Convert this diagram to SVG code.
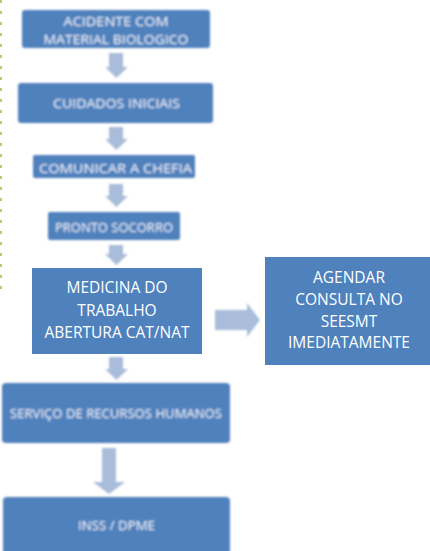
<svg xmlns="http://www.w3.org/2000/svg" width="430" height="551" viewBox="0 0 430 551">
<defs>
<filter id="soft" x="-5%" y="-20%" width="110%" height="140%"><feGaussianBlur stdDeviation="0.9"/></filter>
<style>
.box{fill:#4f81bd}
.arr{fill:#a9bcd9}
.t{fill:#ffffff;font-family:"Open Sans","Liberation Sans",sans-serif;text-anchor:middle}
.tb{fill:#eef3fa;font-family:"Open Sans","Liberation Sans",sans-serif;text-anchor:middle;font-size:13px}
.t15{font-size:15.5px}
</style>
</defs>
<rect width="430" height="551" fill="#ffffff"/>
<line x1="1" y1="0" x2="1" y2="292" stroke="#c9c66a" stroke-width="2" stroke-dasharray="3,8"/>
<g id="connectors" class="arr" filter="url(#soft)">
<path d="M109,53 H123 V67 H128 L116.5,78 L105,67 H109 Z"/>
<path d="M109,127 H123 V139 H128 L116.5,150 L105,139 H109 Z"/>
<path d="M109,184 H123 V196 H128 L116.5,207 L105,196 H109 Z"/>
<path d="M109,245 H123 V254 H128 L116.5,265 L105,254 H109 Z"/>
<path d="M109,357 H123 V369 H128 L116.5,380 L105,369 H109 Z"/>
<path d="M102,448 H116 V482 H125 L109,494 L93,482 H102 Z"/>
<path d="M215,310 H247 V303 L260,320 L247,337 V330 H215 Z"/>
</g>
<g id="n1" filter="url(#soft)">
<rect class="box" x="22" y="10" width="188" height="38" rx="3"/>
<text class="tb" x="116" y="25.5" textLength="105" lengthAdjust="spacingAndGlyphs">ACIDENTE COM</text>
<text class="tb" x="116" y="43.5" textLength="145" lengthAdjust="spacingAndGlyphs">MATERIAL BIOLOGICO</text>
</g>
<g id="n2" filter="url(#soft)">
<rect class="box" x="18" y="83" width="195" height="40" rx="3"/>
<text class="tb" x="116.5" y="108" textLength="127" lengthAdjust="spacingAndGlyphs">CUIDADOS INICIAIS</text>
</g>
<g id="n3" filter="url(#soft)">
<rect class="box" x="33" y="155" width="162" height="23" rx="2"/>
<text class="tb" x="115.5" y="172.5" textLength="153" lengthAdjust="spacingAndGlyphs">COMUNICAR A CHEFIA</text>
</g>
<g id="n4" filter="url(#soft)">
<rect class="box" x="48" y="212" width="132" height="28" rx="2"/>
<text class="tb" x="114" y="231.5" font-size="12" textLength="118" lengthAdjust="spacingAndGlyphs">PRONTO SOCORRO</text>
</g>
<g id="n5">
<rect class="box" x="32" y="268" width="170" height="86"/>
<text class="t t15" x="117" y="293">MEDICINA DO</text>
<text class="t t15" x="117" y="316">TRABALHO</text>
<text class="t t15" x="117" y="338">ABERTURA CAT/NAT</text>
</g>
<g id="n6">
<rect class="box" x="265" y="257" width="165" height="108"/>
<text class="t t15" x="349" y="283">AGENDAR</text>
<text class="t t15" x="349" y="305">CONSULTA NO</text>
<text class="t t15" x="349" y="327">SEESMT</text>
<text class="t t15" x="349" y="348">IMEDIATAMENTE</text>
</g>
<g id="n7" filter="url(#soft)">
<rect class="box" x="2" y="383" width="228" height="60" rx="4"/>
<text class="tb" x="116" y="418" font-size="12" textLength="212" lengthAdjust="spacingAndGlyphs">SERVIÇO DE RECURSOS HUMANOS</text>
</g>
<g id="n8" filter="url(#soft)">
<rect class="box" x="3" y="497" width="227" height="60" rx="4"/>
<text class="tb" x="116.5" y="530" font-size="12" textLength="77" lengthAdjust="spacingAndGlyphs">INSS / DPME</text>
</g>
</svg>
